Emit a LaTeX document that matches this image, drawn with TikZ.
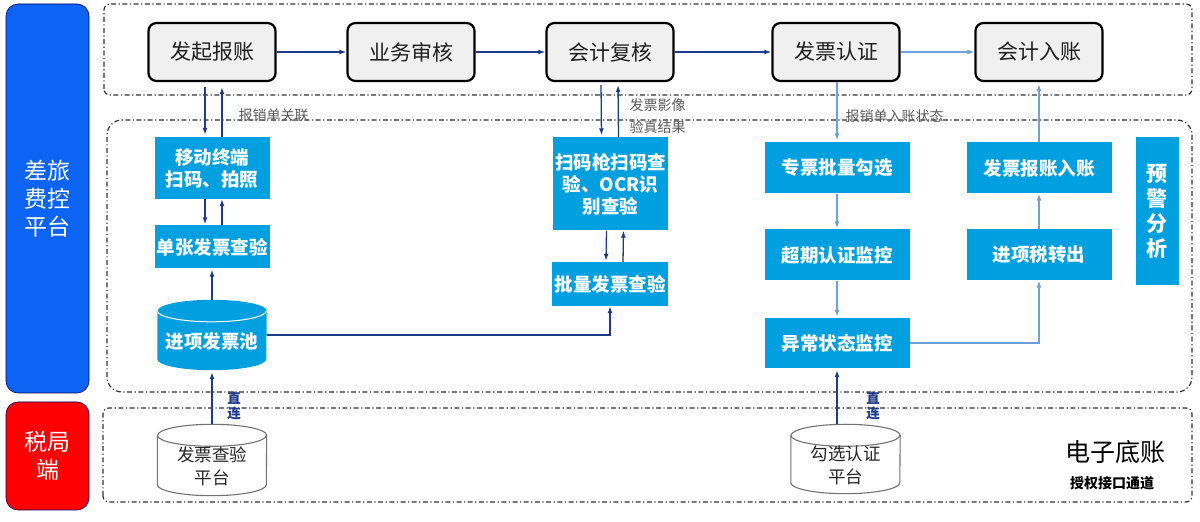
\documentclass[tikz,border=0pt]{standalone}
\usepackage{fontspec}
\setmainfont{Noto Sans CJK SC}
\usetikzlibrary{arrows.meta,backgrounds}

\definecolor{barblue}{RGB}{12,100,244}
\definecolor{barred}{RGB}{255,0,0}
\definecolor{taskblue}{RGB}{0,160,224}
\definecolor{navy}{RGB}{32,58,140}
\definecolor{lightline}{RGB}{110,160,220}

\begin{document}
\begin{tikzpicture}
  [x=1pt,y=1pt
  ,flow/.style={draw=black,line width=2.2pt,rounded corners=8pt,fill=black!6,text=black!88,minimum width=127pt,minimum height=58pt,font=\fontsize{21}{24}\selectfont}
  ,task/.style={fill=taskblue,text=white,inner sep=0pt,align=center,font=\fontsize{18.5}{22}\selectfont\bfseries}
  ,store/.style={inner sep=0pt,align=center}
  ,side/.style={draw=black!60!blue,line width=0.6pt,rounded corners=12pt,minimum width=83pt,text=white,align=center,font=\fontsize{23}{28}\selectfont}
  ,zone/.style={draw=black!80,line width=1.2pt,dash pattern=on 5pt off 2.5pt on 1.2pt off 2.5pt}
  ,dark/.style={draw=navy,line width=1.3pt,-{Latex[length=7pt,width=5pt]}}
  ,light/.style={draw=lightline,line width=1.3pt,-{Latex[length=7pt,width=5pt]}}
  ,note/.style={text=black!65,anchor=west,align=left,font=\fontsize{14}{22}\selectfont}
  ,direct/.style={text=navy,align=center,font=\fontsize{13.5}{15}\selectfont\bfseries}
  ]

  % Cylinder round a node
  %
  % #1 - node name
  % #2 - half width
  % #3 - body style
  % #4 - rim style
  \newcommand{\drum}[4]{
    \path[#3] ([yshift=-11pt]#1.north west) -- ([yshift=11pt]#1.south west)
      arc[start angle=180,end angle=360,x radius=#2,y radius=11]
      -- ([yshift=-11pt]#1.north east)
      arc[start angle=0,end angle=180,x radius=#2,y radius=11] -- cycle;
    \path[#4] ([yshift=-11pt]#1.north west)
      arc[start angle=180,end angle=360,x radius=#2,y radius=11];
  }

  \useasboundingbox (0,0) rectangle (1200,522);

  % side bars
  \node[side,fill=barblue,minimum height=389pt] (plat) at (47.5,323.5) {差旅\\费控\\平台};
  \node[side,fill=barred,minimum height=108pt] (tax) at (47.5,66) {税局\\端};

  % zones
  \draw[zone,rounded corners=6pt] (104,427) rectangle (1192,518);
  \draw[zone,rounded corners=15pt] (107,130) rectangle (1192,402);
  \draw[zone,rounded corners=6pt] (103,20) rectangle (1192,114);

  % main flow
  \node[flow] (start) at (212,470) {发起报账};
  \node[flow] (review) at (411,470) {业务审核};
  \node[flow] (recheck) at (610,470) {会计复核};
  \node[flow] (cert) at (836,470) {发票认证};
  \node[flow] (post) at (1039,470) {会计入账};

  \draw[dark] (start) -- (review);
  \draw[dark] (review) -- (recheck);
  \draw[dark] (recheck) -- (cert);
  \draw[light] (cert) -- (post);

  % left column
  \node[task,minimum width=115pt,minimum height=62pt] (mobile) at (212,354) {移动终端\\扫码、拍照};
  \node[task,minimum width=115pt,minimum height=43pt] (single) at (212,275) {单张发票查验};
  \node[store,text=white,font=\fontsize{18.5}{22}\selectfont\bfseries,minimum width=109pt,minimum height=70pt] (pool) at (212,187) {\raisebox{-13.5pt}[0pt][0pt]{进项发票池}};
  \node[store,text=black!85,font=\fontsize{17.5}{25}\selectfont,minimum width=109pt,minimum height=71pt] (checkplat) at (212,62) {\raisebox{-25pt}[0pt][0pt]{\shortstack{发票查验\\[4pt]平台}}};

  \draw[dark,shorten <=5pt,shorten >=2pt] ([xshift=-7pt]start.south) -- ([xshift=-7pt]mobile.north);
  \draw[dark,shorten >=5pt] ([xshift=10pt]mobile.north) -- ([xshift=10pt]start.south);
  \draw[dark,shorten >=1pt] ([xshift=-7pt]mobile.south) -- ([xshift=-7pt]single.north);
  \draw[dark] ([xshift=10pt]single.north) -- ([xshift=10pt]mobile.south);
  \draw[dark,shorten >=1pt] (pool.north) -- (single.south);
  \draw[dark,shorten >=2pt] (checkplat.north) -- (pool.south);

  \node[note] (linknote) at (235,407) {报销单关联};
  \node[direct] (direct1) at (234,116.5) {直\\连};

  % middle column
  \node[task,minimum width=115pt,minimum height=93pt] (scan) at (610.5,338) {扫码枪扫码查\\验、OCR识\\别查验};
  \node[task,minimum width=116pt,minimum height=44pt] (batch) at (610,238) {批量发票查验};

  \draw[dark,shorten <=3pt,shorten >=2pt] ([xshift=-9pt]recheck.south) -- ([xshift=-9pt]scan.north);
  \draw[dark,shorten >=3pt] ([xshift=8pt]scan.north) -- ([xshift=8pt]recheck.south);
  \draw[dark,shorten >=1pt] ([xshift=-4pt]scan.south) -- ([xshift=-4pt]batch.north);
  \draw[dark] ([xshift=13pt]batch.north) -- ([xshift=13pt]scan.south);
  \draw[dark] (pool.east) -| (batch.south);

  \node[note] (imgnote) at (626,406) {发票影像\\验真结果};

  % right columns
  \node[task,minimum width=145pt,minimum height=51pt] (select) at (837,354) {专票批量勾选};
  \node[task,minimum width=145pt,minimum height=51pt] (overdue) at (837,267) {超期认证监控};
  \node[task,minimum width=145pt,minimum height=50pt] (abnormal) at (837,179) {异常状态监控};
  \node[task,minimum width=145pt,minimum height=51pt] (entry) at (1039,354) {发票报账入账};
  \node[task,minimum width=145pt,minimum height=51pt] (transfer) at (1039,267) {进项税转出};
  \node[task,minimum width=43pt,minimum height=148pt,font=\fontsize{21}{25}\selectfont\bfseries] (alert) at (1157,311) {预\\警\\分\\析};
  \node[store,text=black!85,font=\fontsize{17.5}{25}\selectfont,minimum width=109pt,minimum height=69pt] (selplat) at (845.5,63) {\raisebox{-25pt}[0pt][0pt]{\shortstack{勾选认证\\[4pt]平台}}};

  \draw[light,shorten >=2pt] (cert.south -| select.north) -- (select.north);
  \draw[light,shorten >=1pt] (select) -- (overdue);
  \draw[light,shorten >=1pt] (overdue) -- (abnormal);
  \draw[light] (abnormal.east) -| (transfer.south);
  \draw[light] (transfer) -- (entry);
  \draw[light,shorten >=2pt] (entry.north) -- (post.south);
  \draw[dark,shorten >=2pt] (abnormal.south |- selplat.north) -- (abnormal.south);

  \node[note] (statenote) at (842,406) {报销单入账状态};
  \node[direct] (direct2) at (873,116.5) {直\\连};

  % ledger
  \node[font=\fontsize{25}{27}\selectfont] (ledger) at (1115,70) {电子底账};
  \node[font=\fontsize{14}{16}\selectfont\bfseries] (channel) at (1112,39) {授权接口通道};

  % cylinders
  \begin{scope}[on background layer]
    \drum{pool}{54.5}{fill=taskblue}{draw=white,line width=1pt}
    \drum{checkplat}{54.5}{fill=white,draw=black!55,line width=1.1pt}{draw=black!55,line width=1.1pt}
    \drum{selplat}{54.5}{fill=white,draw=black!55,line width=1.1pt}{draw=black!55,line width=1.1pt}
  \end{scope}

\end{tikzpicture}
\end{document}
